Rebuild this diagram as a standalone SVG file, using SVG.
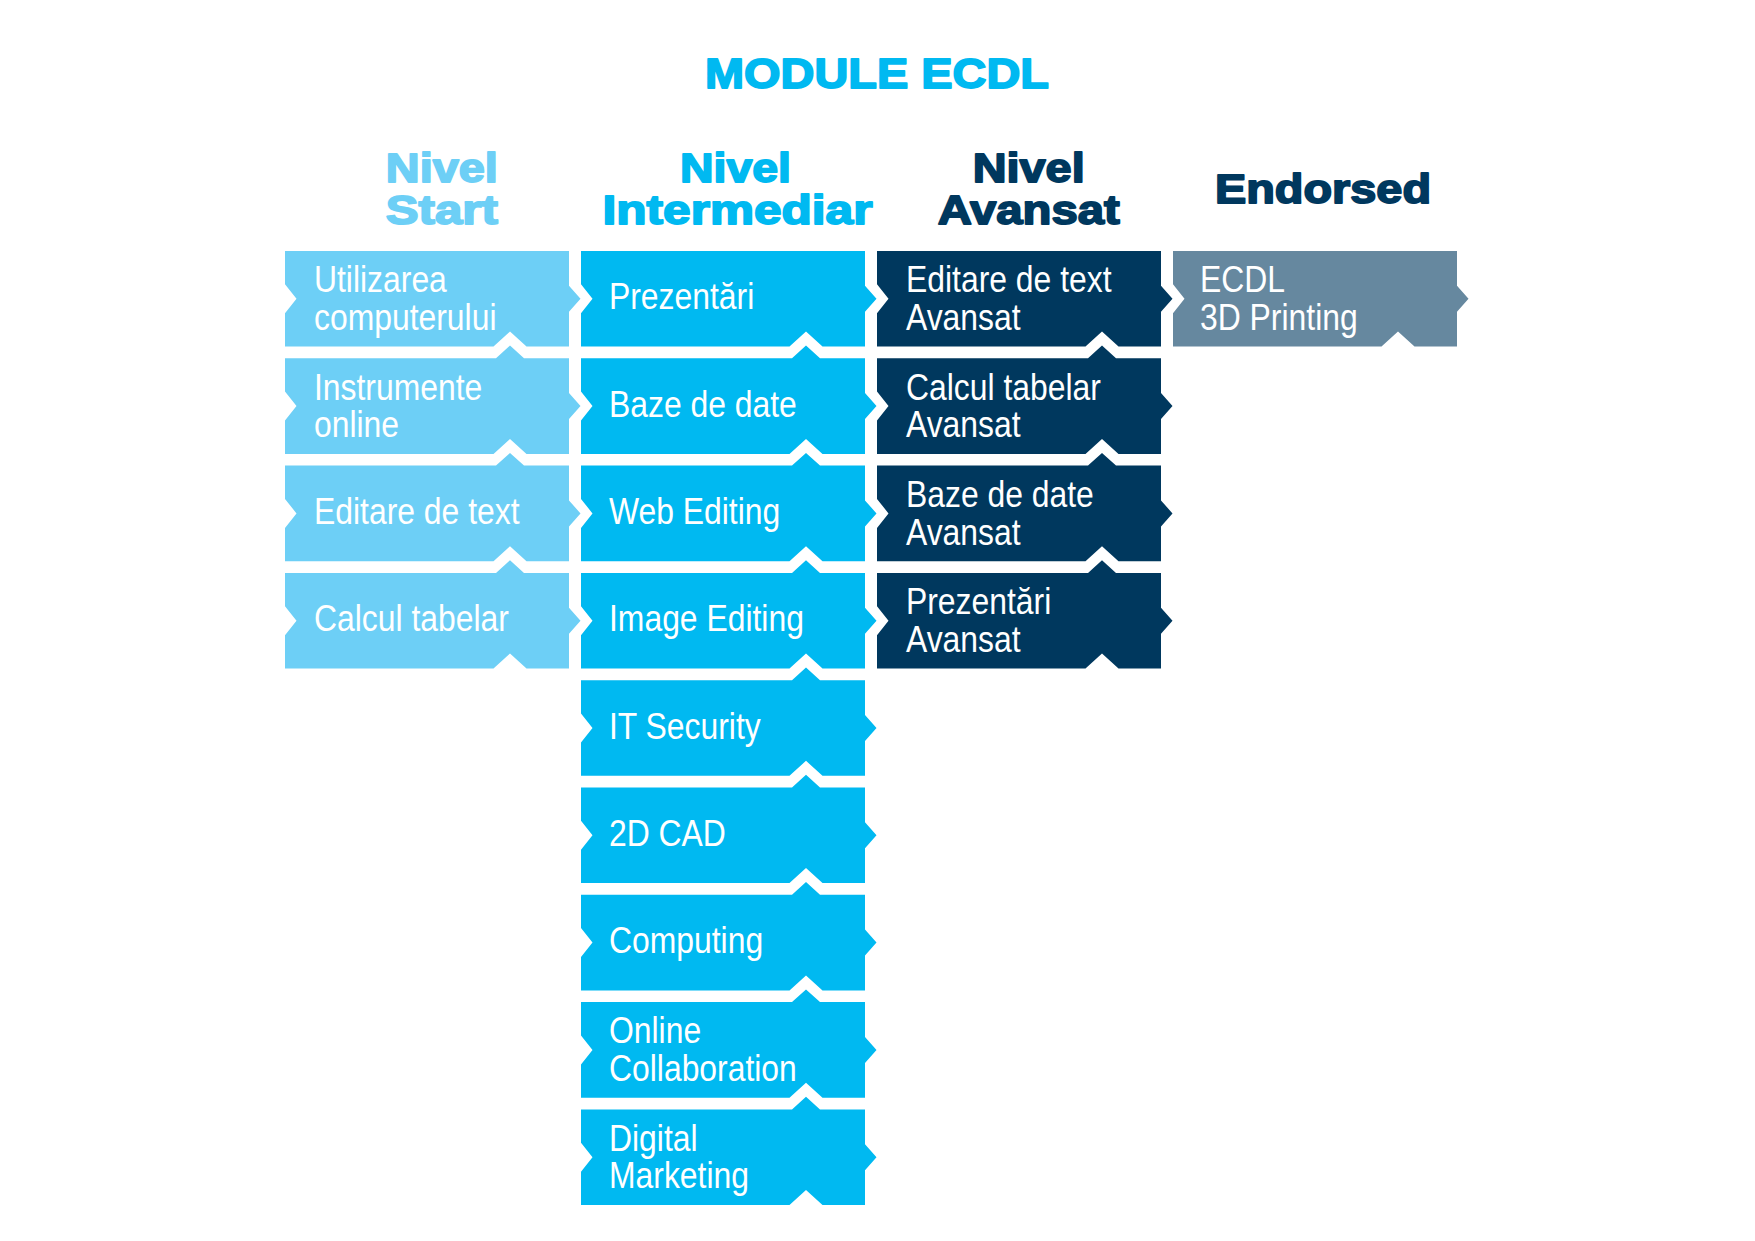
<svg xmlns="http://www.w3.org/2000/svg" xmlns:xlink="http://www.w3.org/1999/xlink" width="1755" height="1241" viewBox="0 0 1755 1241">
<style>
.hd{font-family:"Liberation Sans",Arial,sans-serif;font-weight:bold;text-anchor:middle;stroke-width:1.8;stroke-linejoin:round;}
.t1{font-size:43px;fill:#00B9F1;stroke:#00B9F1;}
.h{font-size:41px;}
.cS{fill:#6DCFF6;stroke:#6DCFF6;}
.cI{fill:#00B9F1;stroke:#00B9F1;}
.cA{fill:#00385E;stroke:#00385E;}
.lbl{font-family:"Liberation Sans",Arial,sans-serif;font-size:37.5px;fill:#FFFFFF;}
.fS{fill:#6DCFF6;}
.fI{fill:#00B9F1;}
.fA{fill:#00385E;}
.fE{fill:#66889F;}
</style>
<defs>
<path id="boxA" d="M0,0 H284 V34.8 L295.5,47.8 L284,60.8 V95.6 H241.5 L225,80.6 L208.5,95.6 H0 V62.3 L11.5,47.8 L0,33.3 Z"/>
<path id="boxB" d="M0,0 H211 L225,-12.7 L239,0 H284 V34.8 L295.5,47.8 L284,60.8 V95.6 H241.5 L225,80.6 L208.5,95.6 H0 V62.3 L11.5,47.8 L0,33.3 Z"/>
</defs>
<rect width="1755" height="1241" fill="#FFFFFF"/>

<g id="title">
<text class="hd t1" x="877" y="88.3" textLength="344" lengthAdjust="spacingAndGlyphs">MODULE ECDL</text>
</g>

<g id="headers">
<text class="hd h cS" x="441.8" y="182.3" textLength="112" lengthAdjust="spacingAndGlyphs">Nivel</text>
<text class="hd h cS" x="441.8" y="224.3" textLength="112" lengthAdjust="spacingAndGlyphs">Start</text>
<text class="hd h cI" x="735.5" y="182.3" textLength="111" lengthAdjust="spacingAndGlyphs">Nivel</text>
<text class="hd h cI" x="737.5" y="224.3" textLength="270" lengthAdjust="spacingAndGlyphs">Intermediar</text>
<text class="hd h cA" x="1028.7" y="182.3" textLength="112" lengthAdjust="spacingAndGlyphs">Nivel</text>
<text class="hd h cA" x="1028.7" y="224.3" textLength="182" lengthAdjust="spacingAndGlyphs">Avansat</text>
<text class="hd h cA" x="1323" y="203.3" textLength="216" lengthAdjust="spacingAndGlyphs">Endorsed</text>
</g>

<!-- Nivel Start -->
<g id="s1"><use href="#boxA" x="285" y="251" class="fS"/>
<text class="lbl" transform="translate(314,292.2) scale(0.85,1)"><tspan x="0" y="0">Utilizarea</tspan><tspan x="0" y="37.8">computerului</tspan></text></g>
<g id="s2"><use href="#boxB" x="285" y="358.3" class="fS"/>
<text class="lbl" transform="translate(314,399.5) scale(0.85,1)"><tspan x="0" y="0">Instrumente</tspan><tspan x="0" y="37.8">online</tspan></text></g>
<g id="s3"><use href="#boxB" x="285" y="465.6" class="fS"/>
<text class="lbl" transform="translate(314,523.9) scale(0.85,1)">Editare de text</text></g>
<g id="s4"><use href="#boxB" x="285" y="572.9" class="fS"/>
<text class="lbl" transform="translate(314,631.2) scale(0.85,1)">Calcul tabelar</text></g>

<!-- Nivel Intermediar -->
<g id="i1"><use href="#boxA" x="581" y="251" class="fI"/>
<text class="lbl" transform="translate(609,309.3) scale(0.85,1)">Prezentări</text></g>
<g id="i2"><use href="#boxB" x="581" y="358.3" class="fI"/>
<text class="lbl" transform="translate(609,416.6) scale(0.85,1)">Baze de date</text></g>
<g id="i3"><use href="#boxB" x="581" y="465.6" class="fI"/>
<text class="lbl" transform="translate(609,523.9) scale(0.85,1)">Web Editing</text></g>
<g id="i4"><use href="#boxB" x="581" y="572.9" class="fI"/>
<text class="lbl" transform="translate(609,631.2) scale(0.85,1)">Image Editing</text></g>
<g id="i5"><use href="#boxB" x="581" y="680.2" class="fI"/>
<text class="lbl" transform="translate(609,738.5) scale(0.85,1)">IT Security</text></g>
<g id="i6"><use href="#boxB" x="581" y="787.5" class="fI"/>
<text class="lbl" transform="translate(609,845.8) scale(0.85,1)">2D CAD</text></g>
<g id="i7"><use href="#boxB" x="581" y="894.8" class="fI"/>
<text class="lbl" transform="translate(609,953.1) scale(0.85,1)">Computing</text></g>
<g id="i8"><use href="#boxB" x="581" y="1002.1" class="fI"/>
<text class="lbl" transform="translate(609,1043.3) scale(0.85,1)"><tspan x="0" y="0">Online</tspan><tspan x="0" y="37.8">Collaboration</tspan></text></g>
<g id="i9"><use href="#boxB" x="581" y="1109.4" class="fI"/>
<text class="lbl" transform="translate(609,1150.6) scale(0.85,1)"><tspan x="0" y="0">Digital</tspan><tspan x="0" y="37.8">Marketing</tspan></text></g>

<!-- Nivel Avansat -->
<g id="a1"><use href="#boxA" x="877" y="251" class="fA"/>
<text class="lbl" transform="translate(906,292.2) scale(0.85,1)"><tspan x="0" y="0">Editare de text</tspan><tspan x="0" y="37.8">Avansat</tspan></text></g>
<g id="a2"><use href="#boxB" x="877" y="358.3" class="fA"/>
<text class="lbl" transform="translate(906,399.5) scale(0.85,1)"><tspan x="0" y="0">Calcul tabelar</tspan><tspan x="0" y="37.8">Avansat</tspan></text></g>
<g id="a3"><use href="#boxB" x="877" y="465.6" class="fA"/>
<text class="lbl" transform="translate(906,506.8) scale(0.85,1)"><tspan x="0" y="0">Baze de date</tspan><tspan x="0" y="37.8">Avansat</tspan></text></g>
<g id="a4"><use href="#boxB" x="877" y="572.9" class="fA"/>
<text class="lbl" transform="translate(906,614.1) scale(0.85,1)"><tspan x="0" y="0">Prezentări</tspan><tspan x="0" y="37.8">Avansat</tspan></text></g>

<!-- Endorsed -->
<g id="e1"><use href="#boxA" x="1173" y="251" class="fE"/>
<text class="lbl" transform="translate(1200,292.2) scale(0.85,1)"><tspan x="0" y="0">ECDL</tspan><tspan x="0" y="37.8">3D Printing</tspan></text></g>
</svg>
